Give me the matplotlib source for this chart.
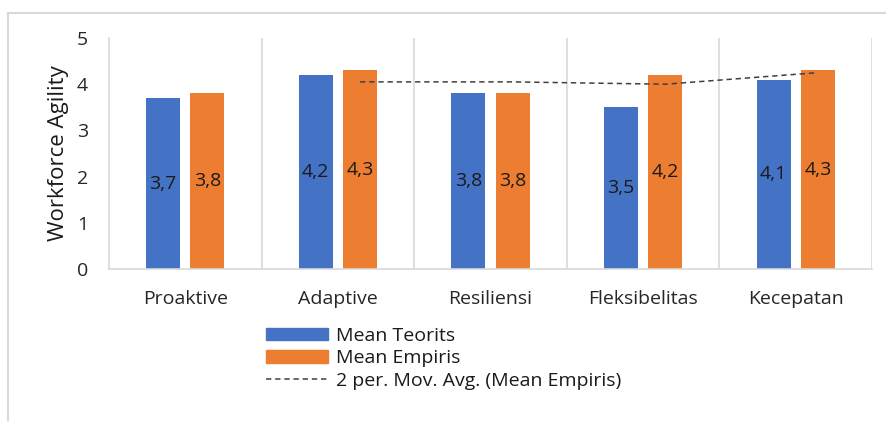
import matplotlib.pyplot as plt
import numpy as np
import pandas as pd
from matplotlib.patches import Patch
from matplotlib.lines import Line2D

plt.rcParams['font.family'] = ['Open Sans', 'DejaVu Sans']

categories = ['Proaktive', 'Adaptive', 'Resiliensi', 'Fleksibelitas', 'Kecepatan']
mean_teorits = [3.7, 4.2, 3.8, 3.5, 4.1]
mean_empiris = [3.8, 4.3, 3.8, 4.2, 4.3]

blue = '#4472c4'
orange = '#ed7d31'
grid_col = '#d9d9d9'
txt_col = '#262626'

fig = plt.figure(figsize=(8.87, 4.21), dpi=100)
ax = fig.add_axes([109 / 887, 1 - 269 / 421, (872 - 109) / 887, (269 - 38) / 421])

x = np.arange(len(categories))
w = 0.223
off = 0.145
b1 = ax.bar(x - off, mean_teorits, w, color=blue)
b2 = ax.bar(x + off, mean_empiris, w, color=orange)

# 2 period moving average of Mean Empiris (Excel trendline)
mov = pd.Series(mean_empiris).rolling(2).mean()
ax.plot(x[1:] + off, mov[1:], '--', color='#404040', lw=1.1, dashes=(3.5, 2.5))

for bars, vals in [(b1, mean_teorits), (b2, mean_empiris)]:
    for b, v in zip(bars, vals):
        ax.text(b.get_x() + b.get_width() / 2, v / 2, str(v).replace('.', ','),
                ha='center', va='center', fontsize=14, color='#1a1a1a')

ax.set_xlim(-0.5, len(categories) - 0.5)
ax.set_ylim(0, 5)
ax.set_yticks(range(6))
ax.set_xticks(x)
ax.set_xticklabels(categories)
for b in np.arange(0.5, len(categories), 1):
    ax.axvline(b, color=grid_col, lw=1.2, zorder=0)
for s in ['top', 'right']:
    ax.spines[s].set_visible(False)
ax.spines['left'].set_color(grid_col)
ax.spines['bottom'].set_color(grid_col)
ax.spines['left'].set_linewidth(1.2)
ax.spines['bottom'].set_linewidth(1.2)
ax.tick_params(length=0, labelsize=14, labelcolor=txt_col)
ax.tick_params(axis='x', pad=15)
ax.tick_params(axis='y', pad=15)
ax.set_ylabel('Workforce Agility', fontsize=16, color='#1a1a1a', labelpad=6)

handles = [Patch(color=blue, label='Mean Teorits'),
           Patch(color=orange, label='Mean Empiris'),
           Line2D([], [], ls='--', color='#404040', lw=1.1, dashes=(3.5, 2.5),
                  label='2 per. Mov. Avg. (Mean Empiris)')]
fig.legend(handles=handles, loc='upper left', bbox_to_anchor=(266 / 887, 1 - 327 / 421),
           frameon=False, fontsize=14, handlelength=3.2, handleheight=0.6, handletextpad=0.4,
           labelspacing=0.22, borderpad=0, borderaxespad=0, labelcolor='#1a1a1a')

# outer chart border (cropped on right and bottom)
fig.add_artist(Line2D([8 / 887, 8 / 887], [0, 1 - 13 / 421], color='#d9d9d9', lw=1.5))
fig.add_artist(Line2D([8 / 887, 1], [1 - 13 / 421, 1 - 13 / 421], color='#d9d9d9', lw=1.5))

fig.savefig('out.png', dpi=100)
